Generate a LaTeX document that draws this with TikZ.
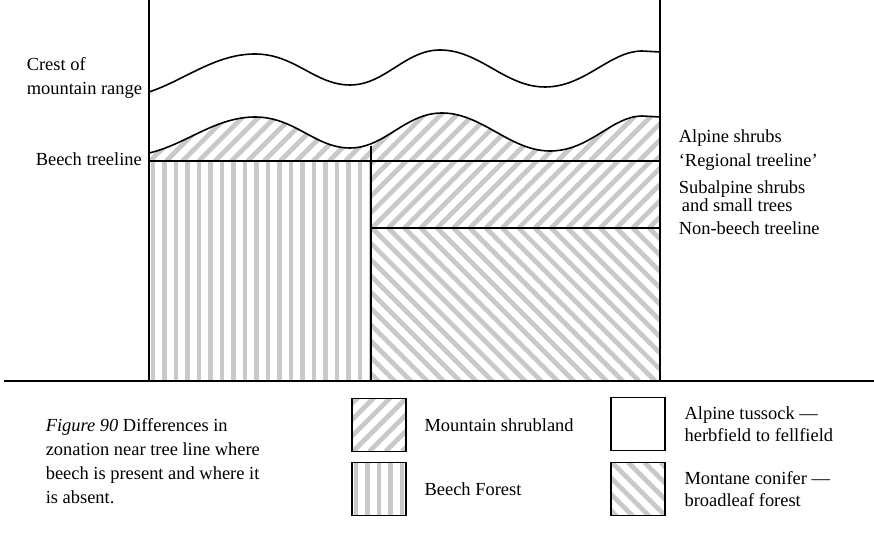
\documentclass[tikz,border=0pt]{standalone}
\usepackage{fontspec}
\setmainfont{Liberation Serif}
\usepackage{tikz}
\usetikzlibrary{
	positioning
}
\colorlet{hatchgray}{gray!42}
\tikzset{
	hatchline/.style={hatchgray, line width=2.7pt},
	shrubland/.style={path picture={
		\foreach \c in {-700,-683.7,...,700}
			\draw[hatchline] ([xshift=\c*0.02cm]path picture bounding box.south west) -- ++(700,-700);
	}},
	beechforest/.style={path picture={
		\foreach \c in {4,15.5,...,400}
			\draw[hatchline] ([xshift=\c*0.02cm]path picture bounding box.north west) -- ++(0,500);
	}},
	conifer/.style={path picture={
		\foreach \c in {-700,-683.7,...,700}
			\draw[hatchline] ([xshift=\c*0.02cm]path picture bounding box.north west) -- ++(700,700);
	}},
	lbl/.style={anchor=west, inner sep=0pt, align=left, font=\fontsize{10.5}{13.6}\selectfont},
	legbox/.style={draw, minimum width=1.08cm, minimum height=1.06cm, inner sep=0pt}
}

\begin{document}
\begin{tikzpicture}[x=0.02cm, y=-0.02cm, line width=0.9pt]
		\useasboundingbox (0,0) rectangle (874,536);
		% zones
		\draw[shrubland] (149,153) .. controls (185,145) and (215,117) .. (255,117)
			.. controls (295,117) and (315,148) .. (350,148)
			.. controls (385,148) and (405,113) .. (442,113)
			.. controls (482,113) and (510,151) .. (550,151)
			.. controls (590,151) and (612,116) .. (642,116) -- (660,117)
			-- (660,161) -- (149,161) -- cycle;
		\draw[beechforest] (149,161) rectangle (371,381);
		\draw[shrubland] (371,161) rectangle (660,228);
		\draw[conifer] (371,228) rectangle (660,381);
		% crest of the range
		\draw (149,92) .. controls (185,80) and (215,54) .. (255,54)
			.. controls (295,54) and (315,85) .. (350,85)
			.. controls (385,85) and (405,50) .. (440,50)
			.. controls (480,50) and (505,87) .. (545,87)
			.. controls (585,87) and (610,51) .. (642,51) -- (660,52);
		\draw (371,146) -- (371,161);
		\draw (149,0) -- (149,381);
		\draw (660,0) -- (660,381);
		\draw[line width=1.2pt] (4,381) -- (874,381);
		% labels
		\node[lbl] (crest) at (26,78) {Crest of\\mountain range};
		\node[lbl] (beechline) at (35,159) {Beech treeline};
		\node[lbl] (alpine) at (678,138) {Alpine shrubs};
		\node[lbl] (regional) at (678,162) {`Regional treeline'};
		\node[lbl, font=\fontsize{10.5}{10.4}\selectfont] (subalpine) at (678,196) {Subalpine shrubs\\ \,and small trees};
		\node[lbl] (nonbeech) at (678,228) {Non-beech treeline};
		% legend
		\node[lbl] (caption) at (45,461)
			{\textit{Figure 90} Differences in\\zonation near tree line where\\beech is present and where it\\is absent.};
		\node[legbox, shrubland] (boxshrub) at (379,425) {};
		\node[legbox, beechforest] (boxbeech) at (379,489) {};
		\node[legbox] (boxtussock) at (638,424) {};
		\node[legbox, conifer] (boxconifer) at (638,489) {};
		\node[lbl, right=0.34cm of boxshrub] (txtshrub) {Mountain shrubland};
		\node[lbl, right=0.34cm of boxbeech] (txtbeech) {Beech Forest};
		\node[lbl, right=0.36cm of boxtussock, font=\fontsize{10.5}{12.4}\selectfont] (txttussock) {Alpine tussock ---\\herbfield to fellfield};
		\node[lbl, right=0.36cm of boxconifer, font=\fontsize{10.5}{12.2}\selectfont] (txtconifer) {Montane conifer ---\\broadleaf forest};
	\end{tikzpicture}
\end{document}
